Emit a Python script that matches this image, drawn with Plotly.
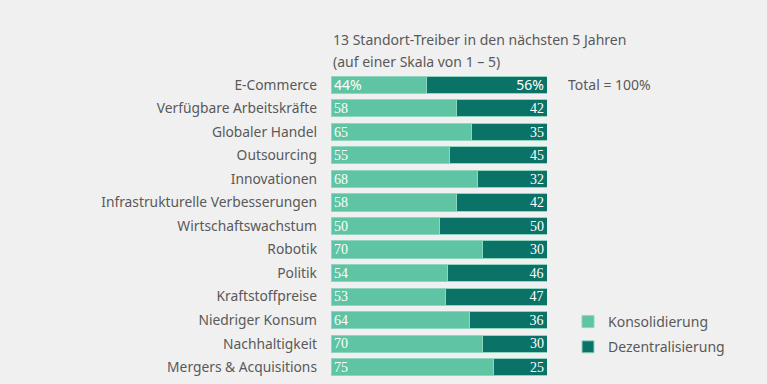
import plotly.graph_objects as go

categories = ["E-Commerce", "Verfügbare Arbeitskräfte", "Globaler Handel", "Outsourcing",
              "Innovationen", "Infrastrukturelle Verbesserungen", "Wirtschaftswachstum",
              "Robotik", "Politik", "Kraftstoffpreise", "Niedriger Konsum",
              "Nachhaltigkeit", "Mergers & Acquisitions"]
konsolidierung = [44, 58, 65, 55, 68, 58, 50, 70, 54, 53, 64, 70, 75]
dezentralisierung = [56, 42, 35, 45, 32, 42, 50, 30, 46, 47, 36, 30, 25]
k_labels = ["44%"] + [str(v) for v in konsolidierung[1:]]
d_labels = ["56%"] + [str(v) for v in dezentralisierung[1:]]

light = "#5ec4a4"
dark = "#0b7268"
bg = "#f0f0f0"
grey = "#595959"

L, R, T, B = 331, 220, 73, 5
PW, PH = 767 - L - R, 384 - T - B

def px(x):
    return (x - L) / PW

def py(y):
    return (384 - B - y) / PH

families = ["Noto Sans"] + ["Liberation Serif"] * (len(categories) - 1)
sizes = [14] + [15] * (len(categories) - 1)

fig = go.Figure()
fig.add_trace(go.Bar(
    y=categories, x=konsolidierung, orientation="h", name="Konsolidierung",
    legendgroup="k",
    marker=dict(color=light, line=dict(color="#8fd6c0", width=1)),
    text=k_labels, textposition="inside", insidetextanchor="start", textangle=0,
    constraintext="none",
    textfont=dict(family=families, size=sizes, color="white"),
    hoverinfo="skip", cliponaxis=False))
fig.add_trace(go.Bar(
    y=categories, x=dezentralisierung, orientation="h", name="Dezentralisierung",
    legendgroup="d",
    marker=dict(color=dark, line=dict(color="#8fd6c0", width=1)),
    text=d_labels, textposition="inside", insidetextanchor="end", textangle=0,
    constraintext="none",
    textfont=dict(family=families, size=sizes, color="white"),
    hoverinfo="skip", cliponaxis=False))

fig.update_layout(
    width=767, height=384, barmode="stack", bargap=0.27,
    paper_bgcolor=bg, plot_bgcolor=bg,
    margin=dict(l=L, r=R, t=T, b=B),
    font=dict(family="Noto Sans", color=grey, size=14),
    xaxis=dict(range=[0, 100], visible=False, fixedrange=True),
    yaxis=dict(autorange="reversed", showgrid=False, ticks="", ticklabelstandoff=13,
               tickfont=dict(family="Noto Sans", size=13.8, color=grey)),
    uniformtext=dict(minsize=10, mode="show"),
    legend=dict(x=px(568), y=py(306), xanchor="left", yanchor="top",
                bgcolor="rgba(0,0,0,0)", font=dict(size=14, color=grey),
                itemwidth=30, tracegroupgap=4, traceorder="grouped"),
    annotations=[
        dict(xref="paper", yref="paper", x=px(331), y=py(40), xanchor="left", yanchor="middle",
             text="13 Standort-Treiber in den nächsten 5 Jahren", showarrow=False,
             font=dict(size=14, color=grey)),
        dict(xref="paper", yref="paper", x=px(331), y=py(62), xanchor="left", yanchor="middle",
             text="(auf einer Skala von 1 – 5)", showarrow=False,
             font=dict(size=14, color=grey)),
        dict(xref="paper", yref="paper", x=px(566), y=py(85), xanchor="left", yanchor="middle",
             text="Total = 100%", showarrow=False, font=dict(size=14, color=grey)),
    ],
)

fig.write_html("out.html", config={"displayModeBar": False},
               post_script="document.body.style.margin='0';document.body.style.overflow='hidden';")
